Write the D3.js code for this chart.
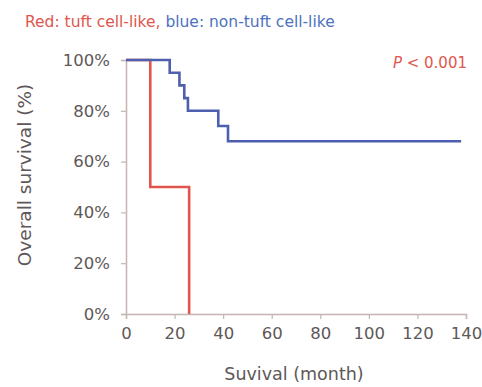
<!DOCTYPE html>
<html>
<head>
<meta charset="utf-8">
<script src="https://cdn.jsdelivr.net/npm/d3@7"></script>
<style>
  body { margin: 0; background: #fff; }
  text { font-family: "DejaVu Sans", Verdana, sans-serif; }
</style>
</head>
<body>
<div id="chart"></div>
<script>
// survival curves, months vs % surviving
var tuft_months     = [0, 10, 26];
var tuft_surv       = [100, 50, 0];
var nontuft_months  = [0, 18, 22, 24, 25.5, 38, 42, 138];
var nontuft_surv    = [100, 95, 90, 85, 80, 74, 68, 68];
var x_ticks = [0, 20, 40, 60, 80, 100, 120, 140];
var y_ticks = [0, 20, 40, 60, 80, 100];

var svg = d3.select("#chart").append("svg")
  .attr("width", 482).attr("height", 387);

var scalex = d3.scaleLinear().domain([0, 140]).range([126, 466]);
var scaley = d3.scaleLinear().domain([0, 100]).range([314, 60]);

var axis_color = "#c4b4b4";

var x_axis = d3.axisBottom(scalex).tickValues(x_ticks).tickSize(5).tickPadding(8);
var y_axis = d3.axisLeft(scaley).tickValues(y_ticks).tickSize(5).tickPadding(11)
  .tickFormat(function(d) { return d + "%"; });

var gx = svg.append("g")
  .attr("transform", "translate(0," + scaley(0) + ")")
  .call(x_axis);
var gy = svg.append("g")
  .attr("transform", "translate(" + scalex(0) + ",0)")
  .call(y_axis);

[gx, gy].forEach(function(g) {
  g.select(".domain").attr("stroke", axis_color).attr("stroke-width", 1.5);
  g.selectAll(".tick line").attr("stroke", axis_color).attr("stroke-width", 1.2);
  g.selectAll(".tick text")
    .attr("fill", "#5e5858")
    .style("font-family", "'DejaVu Sans', Verdana, sans-serif")
    .style("font-size", "16.5px");
});

var line = d3.line()
  .x(function(d) { return scalex(d[0]); })
  .y(function(d) { return scaley(d[1]); })
  .curve(d3.curveStepAfter);

function pairs(xs, ys) {
  return xs.map(function(v, i) { return [v, ys[i]]; });
}

svg.append("path")
  .datum(pairs(tuft_months, tuft_surv))
  .attr("d", line)
  .attr("fill", "none")
  .attr("stroke", "#e0564e")
  .attr("stroke-width", 2.6);

svg.append("path")
  .datum(pairs(nontuft_months, nontuft_surv))
  .attr("d", line)
  .attr("fill", "none")
  .attr("stroke", "#4d5fae")
  .attr("stroke-width", 2.6);

// title
var title = svg.append("text")
  .attr("x", 25).attr("y", 27)
  .style("font-size", "15.5px");
title.append("tspan").attr("fill", "#e0564e").text("Red: tuft cell-like, ");
title.append("tspan").attr("fill", "#4d72c0").text("blue: non-tuft cell-like");

// p value
var ptxt = svg.append("text")
  .attr("x", 467).attr("y", 68)
  .attr("text-anchor", "end")
  .attr("fill", "#e0564e")
  .style("font-size", "15px");
ptxt.append("tspan").style("font-style", "italic").text("P");
ptxt.append("tspan").text(" < 0.001");

// axis titles
svg.append("text")
  .attr("x", 294).attr("y", 380)
  .attr("text-anchor", "middle")
  .attr("fill", "#5e5858")
  .style("font-size", "17.5px")
  .text("Suvival (month)");

svg.append("text")
  .attr("transform", "translate(31,175) rotate(-90)")
  .attr("text-anchor", "middle")
  .attr("fill", "#5e5858")
  .style("font-size", "18.5px")
  .text("Overall survival (%)");
</script>
</body>
</html>
